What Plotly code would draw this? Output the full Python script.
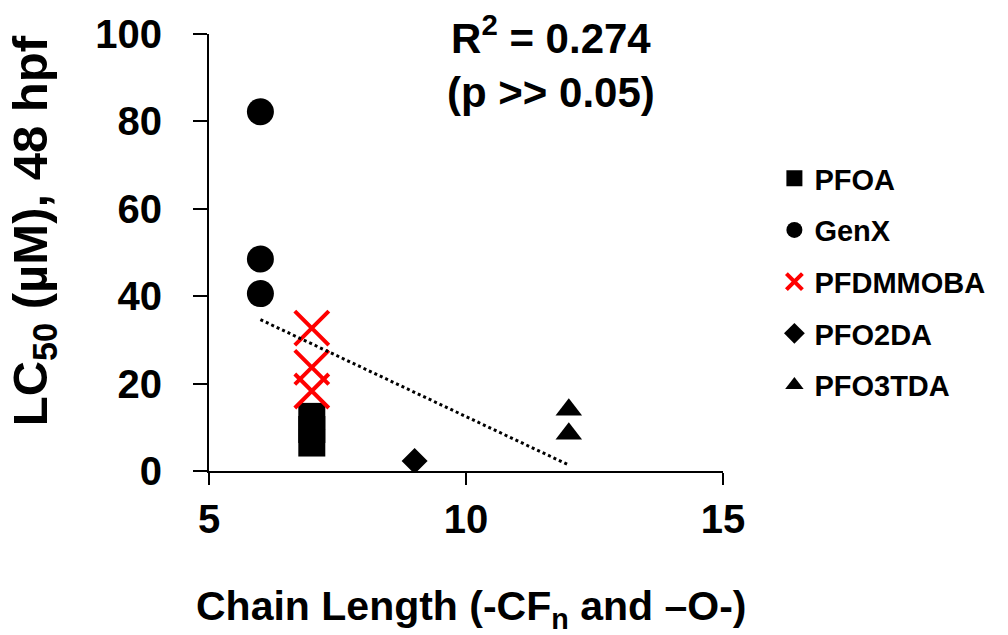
import numpy as np
import plotly.graph_objects as go

# ---- data ----
pfoa_x = [7, 7, 7]
pfoa_y = [6.4, 9.5, 12.5]
genx_x = [6, 6, 6]
genx_y = [82.2, 48.5, 40.6]
pfdmmoba_x = [7, 7, 7]
pfdmmoba_y = [32.7, 23.7, 18.3]
pfo2da_x = [9]
pfo2da_y = [2.3]
pfo3tda_x = [12, 12]
pfo3tda_y = [14.0, 8.5]

x_ticks = [5, 10, 15]
y_ticks = [0, 20, 40, 60, 80, 100]

FONT = "Liberation Sans, Arial, sans-serif"

fig = go.Figure()

series = [
    ("PFOA", pfoa_x, pfoa_y, "square", 27, "black", 0),
    ("GenX", genx_x, genx_y, "circle", 27, "black", 0),
    ("PFDMMOBA", pfdmmoba_x, pfdmmoba_y, "x-thin", 34, "red", 4),
    ("PFO2DA", pfo2da_x, pfo2da_y, "diamond", 20, "black", 0),
    ("PFO3TDA", pfo3tda_x, pfo3tda_y, "triangle-up", 23, "black", 0),
]
for name, xs, ys, sym, size, col, lw in series:
    fig.add_trace(go.Scatter(
        x=xs, y=ys, mode="markers", name=name, legendgroup=name,
        marker=dict(symbol=sym, size=size, color=col,
                    line=dict(color=col, width=lw)),
    ))

# linear trendline over all points
all_x = np.array(pfoa_x + genx_x + pfdmmoba_x + pfo2da_x + pfo3tda_x, dtype=float)
all_y = np.array(pfoa_y + genx_y + pfdmmoba_y + pfo2da_y + pfo3tda_y, dtype=float)
slope, intercept = np.polyfit(all_x, all_y, 1)
tx = np.array([all_x.min(), all_x.max()])
fig.add_trace(go.Scatter(
    x=tx, y=slope * tx + intercept, mode="lines", showlegend=False,
    line=dict(color="black", width=3, dash="dot"), hoverinfo="skip",
))

fig.add_annotation(
    x=0.665, y=0.936, xref="paper", yref="paper", xanchor="center", yanchor="middle",
    text="<b>R<sup>2</sup> = 0.274<br>(p &gt;&gt; 0.05)</b>", showarrow=False,
    font=dict(family=FONT, size=42, color="black"), align="center",
)
# axis titles
fig.add_annotation(
    x=0.51, y=-0.316, xref="paper", yref="paper", xanchor="center", yanchor="middle",
    text="<b>Chain Length (-CF<sub>n</sub> and –O-)</b>", showarrow=False,
    font=dict(family=FONT, size=41, color="black"),
)
fig.add_annotation(
    x=-0.342, y=0.549, xref="paper", yref="paper", xanchor="center", yanchor="middle",
    text="<b>LC<sub>50</sub> (µM), 48 hpf</b>", showarrow=False, textangle=-90,
    font=dict(family=FONT, size=49, color="black"),
)

fig.update_layout(
    width=1008, height=635,
    margin=dict(l=209, r=285, t=34, b=164),
    plot_bgcolor="white", paper_bgcolor="white",
    font=dict(family=FONT, color="black"),
    showlegend=True,
    legend=dict(
        x=1.1, y=0.728, xanchor="left", yanchor="top",
        font=dict(family=FONT, size=29, color="black", weight="bold"),
        tracegroupgap=11, itemsizing="trace",
        bgcolor="rgba(0,0,0,0)",
    ),
)
fig.update_xaxes(
    range=[5, 15], tickvals=x_ticks, showgrid=False, zeroline=False,
    showline=True, linecolor="black", linewidth=2,
    ticks="outside", ticklen=12, tickwidth=2, tickcolor="black",
    tickfont=dict(family=FONT, size=40, color="black", weight="bold"),
)
fig.update_yaxes(
    range=[0, 100], tickvals=y_ticks, showgrid=False, zeroline=False,
    showline=True, linecolor="black", linewidth=2,
    ticks="outside", ticklen=14, tickwidth=2, tickcolor="black",
    ticklabelstandoff=23,
    tickfont=dict(family=FONT, size=40, color="black", weight="bold"),
)

fig.write_html("out.html")
